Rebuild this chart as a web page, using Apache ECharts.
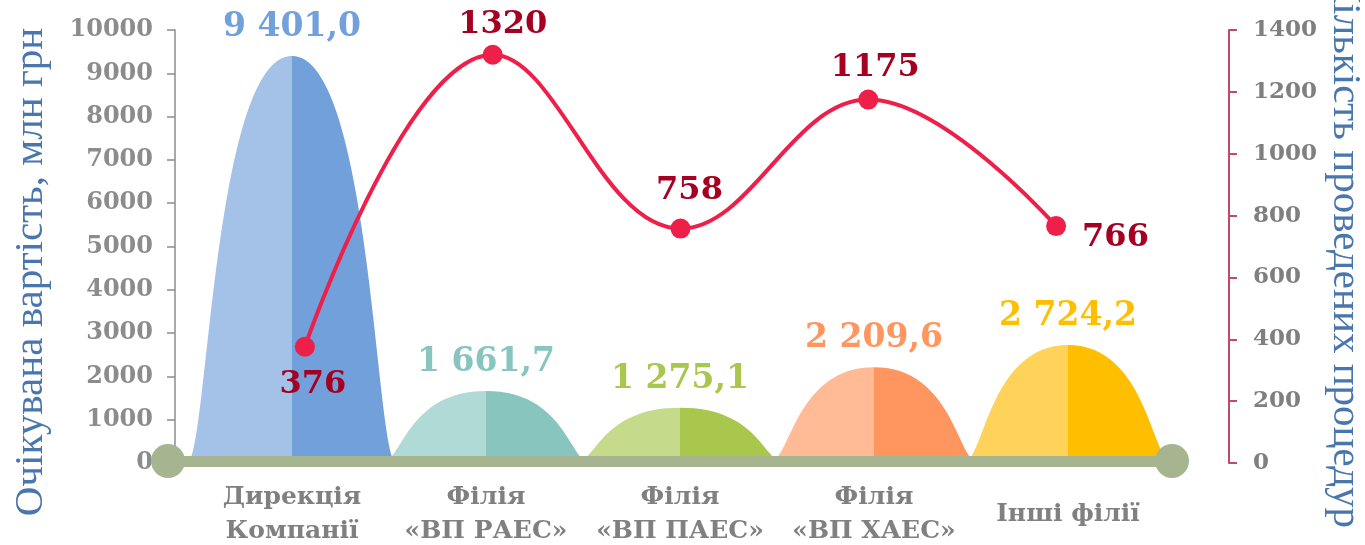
<!DOCTYPE html>
<html>
<head>
<meta charset="utf-8">
<script src="https://cdn.jsdelivr.net/npm/echarts@6/dist/echarts.min.js"></script>
<style>
  html, body { margin: 0; padding: 0; background: #fff; }
  #chart { width: 1365px; height: 545px; }
</style>
</head>
<body>
<div id="chart"></div>
<script>
// data
const categories = ['Дирекція\nКомпанії', 'Філія\n«ВП РАЕС»', 'Філія\n«ВП ПАЕС»', 'Філія\n«ВП ХАЕС»', 'Інші філії']
const costValues = [9401.0, 1661.7, 1275.1, 2209.6, 2724.2]
const procedureCounts = [376, 1320, 758, 1175, 766]
const costAxis = { min: 0, max: 10000, interval: 1000 }
const countAxis = { min: 0, max: 1400, interval: 200 }
const costTitle = 'Очікувана вартість, млн грн'
const countTitle = 'Кількість проведених процедур'

// styling
const lightColors = ['#A4C1E8', '#B0DAD6', '#C6DA8C', '#FFBB96', '#FFD35A']
const darkColors = ['#71A0DA', '#87C5BE', '#A9C74C', '#FF9660', '#FFBE00']
const lineColor = '#EE1F48'
const lineLabelColor = '#A50021'
const titleColor = '#4A76AE'
const numFont = '"DejaVu Serif", serif'
const titleFont = '41px "Liberation Serif", serif'

// where each count label sits around its dot
const countLabelPos = [
  { position: 'bottom', distance: 12, offset: [8, 0] },
  { position: 'top', distance: 4, offset: [10, 0] },
  { position: 'top', distance: 12, offset: [9, 0] },
  { position: 'top', distance: 6, offset: [7, 0] },
  { position: 'right', distance: 16, offset: [0, 12] }
]

function fmtCost (v) {
  const parts = v.toFixed(1).split('.')
  const intPart = parts[0].replace(/\B(?=(\d{3})+(?!\d))/g, ' ')
  return intPart + ',' + parts[1]
}

// bell shaped two-tone bar
function renderBell (params, api) {
  const idx = api.value(0)
  const val = api.value(1)
  const base = api.coord([idx, 0])
  const top = api.coord([idx, val])
  const w = api.size([1, 0])[0] * 1.08
  const cx = base[0]
  const by = base[1]
  const ty = top[1]
  const x0 = cx - w / 2
  const x1 = cx + w / 2
  const c1 = 0.1 * w
  const c2 = 0.12 * w
  const left = 'M' + x0 + ',' + by +
    ' C' + (x0 + c1) + ',' + by + ' ' + (x0 + c2) + ',' + ty + ' ' + cx + ',' + ty +
    ' L' + cx + ',' + by + ' Z'
  const right = 'M' + x1 + ',' + by +
    ' C' + (x1 - c1) + ',' + by + ' ' + (x1 - c2) + ',' + ty + ' ' + cx + ',' + ty +
    ' L' + cx + ',' + by + ' Z'
  return {
    type: 'group',
    children: [
      { type: 'path', shape: { pathData: left }, style: { fill: lightColors[idx] } },
      { type: 'path', shape: { pathData: right }, style: { fill: darkColors[idx] } },
      {
        type: 'text',
        x: cx,
        y: ty - 12,
        style: {
          text: fmtCost(val),
          fill: darkColors[idx],
          font: 'bold 33px ' + numFont,
          align: 'center',
          verticalAlign: 'bottom'
        }
      }
    ]
  }
}

const chart = echarts.init(document.getElementById('chart'))

chart.setOption({
  animation: false,
  graphic: [
    {
      type: 'text',
      x: 31,
      y: 272,
      rotation: Math.PI / 2,
      style: { text: costTitle, font: titleFont, fill: titleColor, align: 'center', verticalAlign: 'middle' }
    },
    {
      type: 'text',
      x: 1345,
      y: 252,
      rotation: -Math.PI / 2,
      style: { text: countTitle, font: titleFont, fill: titleColor, align: 'center', verticalAlign: 'middle' }
    }
  ],
  grid: [
    { left: 195, right: 200, top: 30, bottom: 82, outerBoundsMode: 'none' },
    { left: 211, right: 215, top: 30, bottom: 82, outerBoundsMode: 'none' },
    { left: 168, right: 193, top: 30, bottom: 84, outerBoundsMode: 'none' }
  ],
  xAxis: [
    {
      type: 'category',
      gridIndex: 0,
      data: categories,
      axisLine: { show: false },
      axisTick: { show: false },
      axisLabel: {
        margin: 51,
        verticalAlign: 'middle',
        color: '#808080',
        fontFamily: numFont,
        fontWeight: 'bold',
        fontSize: 25,
        lineHeight: 34,
        interval: 0
      }
    },
    {
      type: 'category',
      gridIndex: 1,
      data: categories,
      show: false
    },
    {
      // the thick baseline with round ends
      type: 'value',
      gridIndex: 2,
      min: 0,
      max: 1,
      z: 5,
      axisLine: {
        show: true,
        symbol: ['circle', 'circle'],
        symbolSize: [34, 34],
        lineStyle: { color: '#A6B490', width: 11 }
      },
      axisTick: { show: false },
      axisLabel: { show: false },
      splitLine: { show: false }
    }
  ],
  yAxis: [
    {
      type: 'value',
      gridIndex: 0,
      min: costAxis.min,
      max: costAxis.max,
      interval: costAxis.interval,
      offset: 20,
      axisLine: { show: true, lineStyle: { color: '#8C8C8C', width: 1.5 } },
      axisTick: { show: true, length: 8, lineStyle: { color: '#8C8C8C', width: 1.5 } },
      splitLine: { show: false },
      axisLabel: {
        margin: 22,
        showMinLabel: true,
        color: '#8C8C8C',
        fontFamily: numFont,
        fontWeight: 'bold',
        fontSize: 24,
        formatter: v => String(v)
      }
    },
    {
      type: 'value',
      gridIndex: 1,
      position: 'right',
      min: countAxis.min,
      max: countAxis.max,
      interval: countAxis.interval,
      offset: 79,
      axisLine: { show: true, lineStyle: { color: '#BE4B6C', width: 2 } },
      axisTick: { show: true, length: 8, lineStyle: { color: '#BE4B6C', width: 2 } },
      splitLine: { show: false },
      axisLabel: {
        margin: 24,
        showMinLabel: true,
        color: '#7F7F7F',
        fontFamily: numFont,
        fontWeight: 'bold',
        fontSize: 23,
        formatter: v => String(v)
      }
    },
    { type: 'value', gridIndex: 2, show: false }
  ],
  series: [
    {
      type: 'custom',
      xAxisIndex: 0,
      yAxisIndex: 0,
      renderItem: renderBell,
      data: costValues.map((v, i) => [i, v]),
      z: 2
    },
    {
      type: 'line',
      xAxisIndex: 1,
      yAxisIndex: 1,
      smooth: 0.4,
      z: 10,
      symbol: 'circle',
      symbolSize: 20,
      lineStyle: { color: lineColor, width: 4 },
      itemStyle: { color: lineColor },
      label: {
        show: true,
        color: lineLabelColor,
        fontFamily: numFont,
        fontWeight: 'bold',
        fontSize: 32
      },
      data: procedureCounts.map((v, i) => ({ value: v, label: countLabelPos[i] }))
    }
  ]
})
</script>
</body>
</html>
